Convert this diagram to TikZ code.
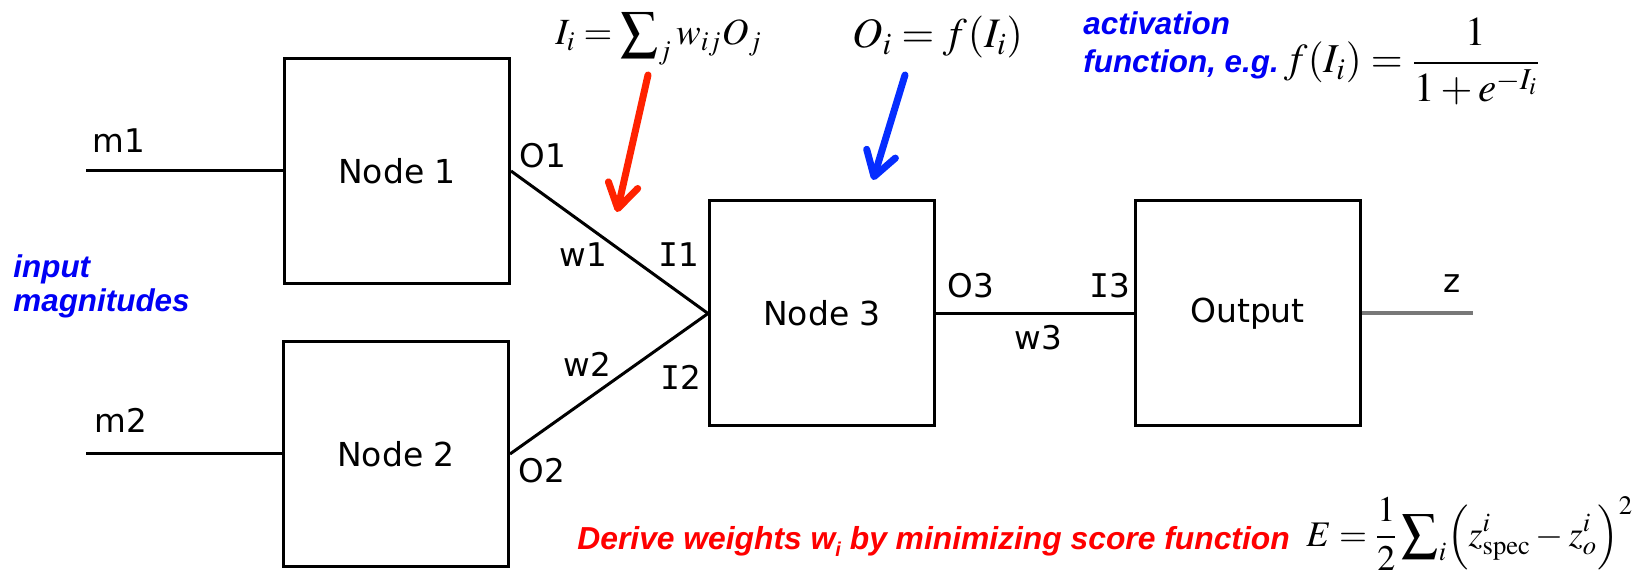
\documentclass[tikz,border=0pt]{standalone}
\usepackage{mathptmx}
\usepackage[no-math]{fontspec}
\newfontfamily\labelfont{DejaVu Sans}
\newfontfamily\serifI{DejaVu Sans Mono}
\newfontfamily\notefont{Liberation Sans}
\usetikzlibrary{arrows.meta}

\definecolor{notered}{RGB}{255,0,0}
\definecolor{noteblue}{RGB}{0,0,245}
\definecolor{arrowred}{RGB}{255,34,0}
\definecolor{arrowblue}{RGB}{5,45,255}
\definecolor{outgray}{RGB}{120,120,120}

\begin{document}
\begin{tikzpicture}[x=0.5pt,y=-0.5pt,
  box/.style={draw, line width=1.5pt, minimum width=112.5pt, minimum height=112.5pt,
    inner sep=0pt, font=\labelfont\fontsize{16.5}{16.5}\selectfont},
  lbl/.style={anchor=base west, inner sep=0pt, font=\labelfont\fontsize{16.3}{16.3}\selectfont},
  wire/.style={line width=1.5pt},
  note/.style={anchor=base west, inner sep=0pt,
    font=\notefont\bfseries\itshape\fontsize{15.7}{15.7}\selectfont},
  fml/.style={anchor=base west, inner sep=0pt},
  pointer/.style={line width=3.5pt, line cap=round,
    -{Straight Barb[length=12pt,width=15pt,round]}}
]
\useasboundingbox (0,0) rectangle (1641,581);

% processing units
\node[box] (n1)  at (397,171)    {Node 1};
\node[box] (n2)  at (396,454)    {Node 2};
\node[box] (n3)  at (822,313.5)  {Node 3};
\node[box] (out) at (1247.5,313.5) {Output};

% free ends of the input and output lines
\coordinate (m1)   at (86,171);
\coordinate (m2)   at (86,454);
\coordinate (zend) at (1473,313.5);

% connections
\draw[wire] (m1) -- (n1.west);
\draw[wire] (m2) -- (n2.west);
\draw[wire] (n1.east) -- (n3.west);
\draw[wire] (n2.east) -- (n3.west);
\draw[wire] (n3.east) -- (out.west);
\draw[line width=2pt, outgray] (out.east) -- (zend);

% signal and weight labels
\node[lbl] (lm1) at (92,153)   {m1};
\node[lbl] (lo1) at (519,168)  {O1};
\node[lbl] (lw1) at (559,267)  {w1};
\node[lbl] (li1) at (658,267)  {{\serifI I}1};
\node[lbl] (lm2) at (94,433)   {m2};
\node[lbl] (lo2) at (518,483)  {O2};
\node[lbl] (lw2) at (563,377)  {w2};
\node[lbl] (li2) at (660,390)  {{\serifI I}2};
\node[lbl] (lo3) at (947,298)  {O3};
\node[lbl] (li3) at (1089,298) {{\serifI I}3};
\node[lbl] (lw3) at (1014,350) {w3};
\node[lbl] (lz)  at (1443,293) {z};

% annotations
\node[note, text=noteblue] (in1)  at (13,278)  {input};
\node[note, text=noteblue] (in2)  at (13,312)  {magnitudes};
\node[note, text=noteblue] (act1) at (1083,35) {activation};
\node[note, text=noteblue] (act2) at (1083,73) {function, e.g.};
\node[note, text=notered, font=\notefont\bfseries\itshape\fontsize{15.9}{15.9}\selectfont]
  (derive) at (577,549)
  {Derive weights w{\fontsize{10}{10}\selectfont\raisebox{-3.5pt}{i}} by minimizing score function};

% formulas
\node[fml, font=\fontsize{18.5}{18.5}\selectfont] (sumI) at (555,45)
  {$I_i=\displaystyle\sum\nolimits_j w_{ij}O_j$};
\node[fml, font=\fontsize{21}{21}\selectfont] (actO) at (852,48)
  {$O_i=f(I_i)$};
\node[fml, font=\fontsize{20.5}{20.5}\selectfont] (sig) at (1284,73)
  {$\displaystyle f(I_i)=\frac{1}{1+e^{-I_i}}$};
\node[fml, font=\fontsize{18}{18}\selectfont] (err) at (1306,546)
  {$\displaystyle E=\frac{1}{2}\sum\nolimits_i\Bigl(z^i_{\mathrm{spec}}-z^i_o\Bigr)^2$};

% pointers from the formulas
\coordinate (ra0) at (648,75);
\coordinate (ra1) at (617,212);
\coordinate (ba0) at (905,75);
\coordinate (ba1) at (873,180);
\draw[pointer, arrowred]  (ra0) -- (ra1);
\draw[pointer, arrowblue] (ba0) -- (ba1);
\end{tikzpicture}
\end{document}
